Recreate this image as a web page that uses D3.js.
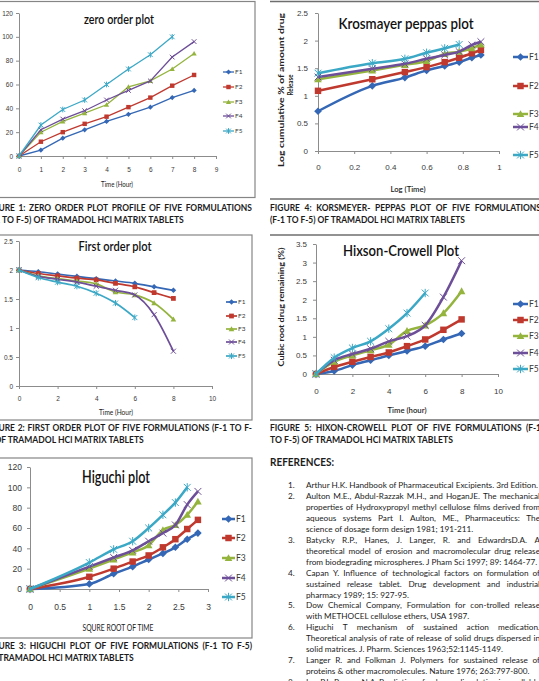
<!DOCTYPE html>
<html>
<head>
<meta charset="utf-8">
<script src="https://cdn.jsdelivr.net/npm/d3@7"></script>
<style>
body { margin: 0; background: #fff; overflow: hidden; }
svg { display: block; font-family: Lato, "Open Sans", sans-serif; }
</style>
</head>
<body>
<svg id="page" width="539" height="681"></svg>
<script>
// ---- data ----
var formulations = ["F1", "F2", "F3", "F4", "F5"];
var seriesColors = ["#3467b5", "#c0392f", "#94b43e", "#6d4e98", "#3ba8c6"];
var markerTypes = ["diamond", "square", "triangle", "x", "star"];

var hours = [0, 1, 2, 3, 4, 5, 6, 7, 8];
var rootTime = [0, 1, 1.41, 1.73, 2, 2.24, 2.45, 2.65, 2.83];
var logTime = [0, 0.30, 0.48, 0.60, 0.70, 0.78, 0.85, 0.90];

// cumulative % released (zero order)
var zeroOrder = [
    [0, 5, 15, 22, 29, 35, 41, 49, 55],
    [0, 12, 20, 27, 33, 41, 49, 59, 68],
    [0, 20, 29, 36, 43, 58, 63, 73, 86],
    [0, 22, 31, 38, 47, 55, 63, 83, 96],
    [0, 26, 39, 47, 60, 73, 85, 100]
];
// same release vs square root of time
var higuchi = [
    [0, 5, 15, 22, 29, 35, 41, 49, 55],
    [0, 12, 20, 27, 33, 41, 49, 59, 68],
    [0, 20, 29, 36, 43, 58, 63, 73, 86],
    [0, 22, 31, 38, 47, 55, 63, 83, 96],
    [0, 26, 39, 47, 60, 73, 85, 100]
];
var firstOrder = [
    [2, 1.97, 1.93, 1.89, 1.85, 1.81, 1.77, 1.71, 1.65],
    [2, 1.94, 1.90, 1.86, 1.83, 1.77, 1.71, 1.61, 1.51],
    [2, 1.90, 1.85, 1.81, 1.76, 1.62, 1.57, 1.43, 1.15],
    [2, 1.89, 1.84, 1.79, 1.72, 1.65, 1.57, 1.23, 0.60],
    [2, 1.87, 1.79, 1.72, 1.60, 1.43, 1.18]
];
var peppas = [
    [0.72, 1.18, 1.33, 1.46, 1.54, 1.61, 1.69, 1.74],
    [1.09, 1.30, 1.43, 1.52, 1.61, 1.69, 1.77, 1.83],
    [1.30, 1.46, 1.56, 1.63, 1.76, 1.80, 1.86, 1.93],
    [1.34, 1.49, 1.58, 1.67, 1.74, 1.80, 1.92, 1.98],
    [1.41, 1.59, 1.67, 1.78, 1.86, 1.93]
];
var hixson = [
    [0, 0.08, 0.24, 0.37, 0.50, 0.62, 0.75, 0.93, 1.09],
    [0, 0.19, 0.33, 0.46, 0.58, 0.75, 0.93, 1.19, 1.47],
    [0, 0.33, 0.50, 0.64, 0.79, 1.16, 1.31, 1.64, 2.23],
    [0, 0.37, 0.54, 0.68, 0.88, 1.02, 1.31, 2.07, 3.05],
    [0, 0.44, 0.70, 0.88, 1.22, 1.64, 2.18]
];

// tick labels
var ticksHour9 = [0, 1, 2, 3, 4, 5, 6, 7, 8, 9];
var ticksHour10 = [0, 2, 4, 6, 8, 10];
var ticksRoot = [0, 0.5, 1, 1.5, 2, 2.5, 3];
var ticksLog = [0, 0.2, 0.4, 0.6, 0.8, 1];
var ticksPercent = [0, 20, 40, 60, 80, 100, 120];
var ticksHalf25 = [0, 0.5, 1, 1.5, 2, 2.5];
var ticksHalf35 = [0, 0.5, 1, 1.5, 2, 2.5, 3, 3.5];

// caption & reference texts
var captions = [
    ["FIGURE 1: ZERO ORDER PLOT PROFILE OF FIVE FORMULATIONS", "(F-1 TO F-5) OF TRAMADOL HCl MATRIX TABLETS"],
    ["FIGURE 2: FIRST ORDER PLOT OF FIVE FORMULATIONS (F-1 TO F-", "5) OF TRAMADOL HCl MATRIX TABLETS"],
    ["FIGURE 3: HIGUCHI PLOT OF FIVE FORMULATIONS (F-1 TO F-5)", "OF TRAMADOL HCl MATRIX TABLETS"],
    ["FIGURE 4:  KORSMEYER- PEPPAS PLOT OF FIVE FORMULATIONS", "(F-1 TO F-5) OF TRAMADOL HCl MATRIX TABLETS"],
    ["FIGURE 5: HIXON-CROWELL PLOT OF FIVE FORMULATIONS (F-1", "TO F-5) OF TRAMADOL HCl MATRIX TABLETS"]
];
var references = [
    ["Arthur H.K. Handbook of Pharmaceutical Excipients. 3rd Edition."],
    ["Aulton M.E., Abdul-Razzak M.H., and HoganJE. The mechanical",
     "properties of Hydroxypropyl methyl cellulose films derived from",
     "aqueous systems Part I. Aulton, ME., Pharmaceutics: The",
     "science of dosage form design 1981; 191-211."],
    ["Batycky R.P., Hanes, J. Langer, R. and EdwardrsD.A. A",
     "theoretical model of erosion and macromolecular drug release",
     "from biodegrading microspheres. J Pham Sci 1997; 89: 1464-77."],
    ["Capan Y. Influence of technological factors on formulation of",
     "sustained release tablet. Drug development and industrial",
     "pharmacy 1989; 15: 927-95."],
    ["Dow Chemical Company, Formulation for con-trolled release",
     "with METHOCEL cellulose ethers, USA 1987."],
    ["Higuchi T mechanism of sustained action medication.",
     "Theoretical analysis of rate of release of solid drugs dispersed in",
     "solid matrices. J. Pharm. Sciences 1963;52:1145-1149."],
    ["Langer R. and Folkman J. Polymers for sustained release of",
     "proteins & other macromolecules. Nature 1976; 263:797-800."],
    ["Lee P.I., Peppas N.A. Prediction of polymer dissolution in swellable",
     "controlled release systems."]
];

var svg = d3.select("#page");
svg.append("rect").attr("width", 539).attr("height", 681).attr("fill", "#fff");

function measure(str, size, weight) {
    var t = svg.append("text").attr("font-size", size).attr("font-weight", weight).text(str);
    var w = t.node().getComputedTextLength();
    t.remove();
    return w;
}

// one line of body text, squeezed by sx; justified lines get their words spread to width
function writeLine(str, x, y, size, weight, sx, width) {
    var g = svg.append("g").attr("transform", "translate(" + x + "," + y + ") scale(" + sx + ",1)");
    var t = g.append("text").attr("font-size", size).attr("font-weight", weight).attr("fill", "#1c1c1c");
    if (!width) {
        t.text(str);
        return;
    }
    var words = str.split(/ +/);
    var ws = words.map(function (w) { return measure(w, size, weight); });
    var gap = (width / sx - d3.sum(ws)) / (words.length - 1);
    var cx = 0;
    words.forEach(function (w, i) {
        t.append("tspan").attr("x", cx).text(w);
        cx += ws[i] + gap;
    });
}

// text forced to a measured width
function fitText(parent, str, x, y, size, weight, width, fill) {
    return parent.append("text")
        .attr("x", x).attr("y", y)
        .attr("text-anchor", "middle")
        .attr("font-size", size)
        .attr("font-weight", weight)
        .attr("fill", fill || "#1c1c1c")
        .attr("textLength", width)
        .attr("lengthAdjust", "spacingAndGlyphs")
        .text(str);
}

function marker(g, type, x, y, s, color) {
    if (type === "diamond") {
        g.append("path").attr("d", "M" + x + "," + (y - s) + "L" + (x + s) + "," + y + "L" + x + "," + (y + s) + "L" + (x - s) + "," + y + "Z").attr("fill", color);
    } else if (type === "square") {
        g.append("rect").attr("x", x - s * 0.85).attr("y", y - s * 0.85).attr("width", s * 1.7).attr("height", s * 1.7).attr("fill", color);
    } else if (type === "triangle") {
        g.append("path").attr("d", "M" + x + "," + (y - s) + "L" + (x + s) + "," + (y + s * 0.8) + "L" + (x - s) + "," + (y + s * 0.8) + "Z").attr("fill", color);
    } else {
        var k = s * 0.9;
        var d = "M" + (x - k) + "," + (y - k) + "L" + (x + k) + "," + (y + k) + "M" + (x - k) + "," + (y + k) + "L" + (x + k) + "," + (y - k);
        if (type === "star") {
            d += "M" + x + "," + (y - s * 1.1) + "L" + x + "," + (y + s * 1.1);
        }
        g.append("path").attr("d", d).attr("stroke", color).attr("stroke-width", 1).attr("fill", "none");
    }
}

function drawChart(c) {
    var x = d3.scaleLinear().domain(c.xDomain).range([c.left, c.right]);
    var y = d3.scaleLinear().domain(c.yDomain).range([c.bottom, c.top]);
    var g = svg.append("g");

    var xAxis = g.append("g").attr("transform", "translate(0," + c.bottom + ")")
        .call(d3.axisBottom(x).tickValues(c.xTicks).tickSize(3).tickSizeOuter(0)
            .tickPadding(c.xPad).tickFormat(d3.format("~g")));
    var yAxis = g.append("g").attr("transform", "translate(" + c.left + ",0)")
        .call(d3.axisLeft(y).tickValues(c.yTicks).tickSize(3).tickSizeOuter(0)
            .tickPadding(c.yPad).tickFormat(d3.format("~g")));
    [xAxis, yAxis].forEach(function (a) {
        a.selectAll("path,line").attr("stroke", "#8c8c8c");
        a.selectAll("text").attr("font-size", c.tickFont).attr("fill", "#3a3a3a");
    });

    var line = d3.line()
        .x(function (d) { return x(d[0]); })
        .y(function (d) { return y(d[1]); })
        .curve(c.smooth ? d3.curveMonotoneX : d3.curveLinear);

    c.values.forEach(function (vals, i) {
        var pts = vals.map(function (v, j) { return [c.xValues[j], v]; });
        g.append("path").attr("d", line(pts)).attr("fill", "none")
            .attr("stroke", seriesColors[i]).attr("stroke-width", c.lineWidth);
        pts.forEach(function (p) {
            marker(g, markerTypes[i], x(p[0]), y(p[1]), c.markSize, seriesColors[i]);
        });
    });

    // legend
    formulations.forEach(function (f, i) {
        var ly = c.legendY[i];
        g.append("line").attr("x1", c.legendX).attr("x2", c.legendX + c.legendLen)
            .attr("y1", ly).attr("y2", ly)
            .attr("stroke", seriesColors[i]).attr("stroke-width", c.lineWidth);
        marker(g, markerTypes[i], c.legendX + c.legendLen / 2, ly, c.markSize, seriesColors[i]);
        g.append("text").attr("x", c.legendX + c.legendLen + 1).attr("y", ly)
            .attr("dy", "0.35em").attr("font-size", c.legendFont).attr("fill", "#3a3a3a").text(f);
    });

    fitText(g, c.title, c.titleX, c.titleY, c.titleSize, c.titleWeight, c.titleW, "#111");
    fitText(g, c.xTitle, c.xTitleX, c.xTitleY, c.xTitleSize, c.xTitleWeight, c.xTitleW, "#222");
    if (c.yTitle) {
        c.yTitle.forEach(function (t) {
            var yt = g.append("g").attr("transform", "translate(" + t.x + "," + t.y + ") rotate(-90)");
            fitText(yt, t.text, 0, 0, c.yTitleSize, "bold", t.w, "#222").attr("dy", "0.35em");
        });
    }
}

// frames
var frames = svg.append("g").attr("fill", "none").attr("stroke", "#858585").attr("stroke-width", 1.2);
frames.append("rect").attr("x", -3).attr("y", 1.5).attr("width", 258).attr("height", 196);
frames.append("rect").attr("x", -3).attr("y", 235).attr("width", 255).attr("height", 185);
frames.append("rect").attr("x", -3).attr("y", 458).attr("width", 255).attr("height", 180);
[[1.5, 199], [235, 420]].forEach(function (p) {
    p.forEach(function (yy) {
        frames.append("line").attr("x1", 270).attr("x2", 539).attr("y1", yy).attr("y2", yy)
            .attr("stroke", "#6e6e6e").attr("stroke-width", 1.5);
    });
});

// zero order
drawChart({
    xDomain: [0, 9], yDomain: [0, 120], left: 19, right: 216, bottom: 156, top: 13,
    xTicks: ticksHour9, yTicks: ticksPercent, xPad: 8, yPad: 3, tickFont: 6.5,
    xValues: hours, values: zeroOrder, lineWidth: 1.3, markSize: 2.6, smooth: false,
    legendX: 223, legendLen: 11, legendY: [72, 87, 102, 116, 131], legendFont: 6.5,
    title: "zero order plot", titleX: 119, titleY: 24, titleSize: 13, titleWeight: 600, titleW: 70,
    xTitle: "Time (Hour)", xTitleX: 117, xTitleY: 186.5, xTitleSize: 7, xTitleWeight: 400, xTitleW: 32
});

// first order
drawChart({
    xDomain: [0, 10], yDomain: [0, 2.5], left: 19, right: 212, bottom: 386, top: 241,
    xTicks: ticksHour10, yTicks: ticksHalf25, xPad: 7, yPad: 3, tickFont: 6.5,
    xValues: hours, values: firstOrder, lineWidth: 1.7, markSize: 2.8, smooth: true,
    legendX: 226, legendLen: 11, legendY: [302, 316, 329, 342, 356], legendFont: 6.5,
    title: "First order plot", titleX: 115, titleY: 251, titleSize: 13, titleWeight: 600, titleW: 73,
    xTitle: "Time (Hour)", xTitleX: 116, xTitleY: 414.5, xTitleSize: 7, xTitleWeight: 400, xTitleW: 34
});

// higuchi
drawChart({
    xDomain: [0, 3], yDomain: [0, 120], left: 30, right: 208, bottom: 589, top: 467,
    xTicks: ticksRoot, yTicks: ticksPercent, xPad: 12, yPad: 5, tickFont: 8.5,
    xValues: rootTime, values: higuchi, lineWidth: 2.5, markSize: 3.8, smooth: true,
    legendX: 222, legendLen: 13, legendY: [519, 538, 558, 578, 597], legendFont: 8.5,
    title: "Higuchi plot", titleX: 116, titleY: 482.5, titleSize: 17, titleWeight: 600, titleW: 68,
    xTitle: "SQURE ROOT OF TIME", xTitleX: 118, xTitleY: 631, xTitleSize: 8.5, xTitleWeight: 400, xTitleW: 71
});

// korsmeyer-peppas
drawChart({
    xDomain: [0, 1], yDomain: [0, 2.5], left: 318, right: 499, bottom: 151, top: 13,
    xTicks: ticksLog, yTicks: ticksHalf25, xPad: 10, yPad: 7, tickFont: 8,
    xValues: logTime, values: peppas, lineWidth: 2.5, markSize: 3.8, smooth: true,
    legendX: 513, legendLen: 15, legendY: [57, 86, 114, 127, 155], legendFont: 8.5,
    title: "Krosmayer peppas plot", titleX: 406, titleY: 28.5, titleSize: 16, titleWeight: 600, titleW: 135,
    xTitle: "Log (Time)", xTitleX: 408, xTitleY: 192, xTitleSize: 8, xTitleWeight: 600, xTitleW: 35,
    yTitleSize: 7.5,
    yTitle: [{ text: "Log cumulative % of amount drug", x: 281, y: 90, w: 154 },
             { text: "Release", x: 290, y: 85, w: 21 }]
});

// hixson-crowell
drawChart({
    xDomain: [0, 10], yDomain: [0, 3.5], left: 316, right: 498, bottom: 374, top: 244,
    xTicks: ticksHour10, yTicks: ticksHalf35, xPad: 11, yPad: 6, tickFont: 8,
    xValues: hours, values: hixson, lineWidth: 2.5, markSize: 3.8, smooth: true,
    legendX: 513, legendLen: 15, legendY: [304, 320, 336, 353, 369], legendFont: 8.5,
    title: "Hixson-Crowell Plot", titleX: 401, titleY: 256, titleSize: 15, titleWeight: 600, titleW: 116,
    xTitle: "Time (hour)", xTitleX: 407, xTitleY: 413, xTitleSize: 8, xTitleWeight: 600, xTitleW: 39,
    yTitleSize: 7.5,
    yTitle: [{ text: "Cubic root drug remaining (%)", x: 281, y: 307, w: 119 }]
});

// captions (the page is cropped on the left, so the left column starts off-screen)
var capSize = 9;
var capSx = 195 / measure(captions[3][1], capSize, "bold");
var capPos = [
    { x: -15, y: 210.5, w: 267, end: 184 },
    { x: -15, y: 430.5, w: 267, end: 144 },
    { x: -15, y: 648.5, w: 267, end: 134 },
    { x: 270, y: 210.5, w: 271, end: 465 },
    { x: 270, y: 430.5, w: 271, end: 453 }
];
captions.forEach(function (cap, i) {
    var p = capPos[i];
    writeLine(cap[0], p.x, p.y, capSize, "bold", capSx, p.w);
    var nat = measure(cap[1], capSize, "bold");
    writeLine(cap[1], p.x, p.y + 12, capSize, "bold", (p.end - p.x) / nat, 0);
});

// references
svg.append("text").attr("x", 270).attr("y", 466).attr("font-size", 11).attr("font-weight", "bold")
    .attr("fill", "#1c1c1c").attr("textLength", 64).attr("lengthAdjust", "spacingAndGlyphs").text("REFERENCES:");

var refSize = 8.2;
var refSx = 232 / measure(references[0][0], refSize, "normal");
var lineY = 488;
references.forEach(function (ref, i) {
    svg.append("text").attr("x", 288).attr("y", lineY).attr("font-size", refSize)
        .attr("fill", "#1c1c1c").text((i + 1) + ".");
    ref.forEach(function (ln, j) {
        var last = j === ref.length - 1;
        writeLine(ln, 306, lineY, refSize, "normal", refSx, last ? 0 : 234);
        lineY += 10.95;
    });
});
</script>
</body>
</html>
